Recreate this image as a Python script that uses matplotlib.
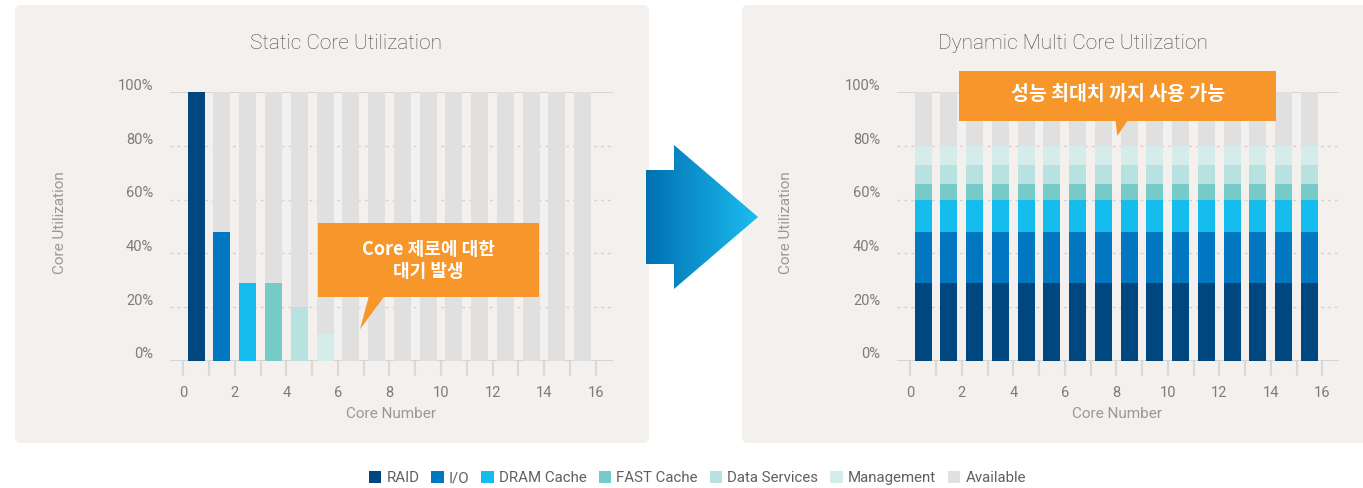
import numpy as np
import matplotlib
matplotlib.use("Agg")
import matplotlib.pyplot as plt
from matplotlib.patches import Patch, Rectangle, Polygon, FancyBboxPatch
from matplotlib.colors import LinearSegmentedColormap

plt.rcParams['font.family'] = ['Roboto', 'Noto Sans CJK KR', 'DejaVu Sans']

# ---- data ----
series = ['RAID', 'I/O', 'DRAM Cache', 'FAST Cache', 'Data Services', 'Management', 'Available']
colors = ['#00467f', '#0077c0', '#14bdee', '#76cac7', '#b8e2df', '#d4ecea', '#e0e0e0']
cores = np.arange(16) + 0.5

# static: one service pinned per core, rest idle
static_raid = [100, 0, 0, 0, 0, 0, 0, 0, 0, 0, 0, 0, 0, 0, 0, 0]
static_io = [0, 48, 0, 0, 0, 0, 0, 0, 0, 0, 0, 0, 0, 0, 0, 0]
static_dram = [0, 0, 29, 0, 0, 0, 0, 0, 0, 0, 0, 0, 0, 0, 0, 0]
static_fast = [0, 0, 0, 29, 0, 0, 0, 0, 0, 0, 0, 0, 0, 0, 0, 0]
static_ds = [0, 0, 0, 0, 20, 0, 0, 0, 0, 0, 0, 0, 0, 0, 0, 0]
static_mgmt = [0, 0, 0, 0, 0, 10, 0, 0, 0, 0, 0, 0, 0, 0, 0, 0]

# dynamic: every core shares the load
dyn_raid = [29] * 16
dyn_io = [19] * 16
dyn_dram = [12] * 16
dyn_fast = [6] * 16
dyn_ds = [7] * 16
dyn_mgmt = [7] * 16

yticks = [0, 20, 40, 60, 80, 100]

W, H = 1363, 488


def fx(x):
    return x / W


def fy(y):
    return 1 - y / H


fig = plt.figure(figsize=(W / 100, H / 100), dpi=100, facecolor='white')

# background: panels + arrow, pixel coordinates
bg = fig.add_axes([0, 0, 1, 1], zorder=-1)
bg.set_xlim(0, W)
bg.set_ylim(H, 0)
bg.axis('off')
panel_col = '#f3f0ed'
for x0, x1 in [(15, 649), (742, 1380)]:
    bg.add_patch(FancyBboxPatch((x0 + 6, 5 + 6), x1 - x0 - 12, 438 - 12,
                                boxstyle='round,pad=6', fc=panel_col, ec='none', zorder=1))

arrow_pts = [(646, 170), (674, 170), (674, 145), (758, 217), (674, 289), (674, 264), (646, 264)]
arrow = Polygon(arrow_pts, closed=True, fc='none', ec='none')
bg.add_patch(arrow)
grad = LinearSegmentedColormap.from_list('arr', ['#0070b2', '#1cbdf0'])
img = bg.imshow(np.linspace(0, 1, 256).reshape(1, -1), cmap=grad, aspect='auto',
                extent=(646, 758, 289, 145), interpolation='bicubic', zorder=3)
img.set_clip_path(arrow)
bg.set_xlim(0, W)
bg.set_ylim(H, 0)


def draw_chart(ax, stack):
    ax.set_facecolor('none')
    ax.set_xlim(-0.52, 16.66)
    ax.set_ylim(0, 100)
    for v in yticks:
        if v in (0, 100):
            ax.axhline(v, color='#cfcfcf', lw=1.2, zorder=0)
        else:
            ax.axhline(v, color='#d3d3d3', lw=1, ls=(0, (2, 3)), zorder=0)
        ax.annotate(f'{v}%', xy=(0, v), xycoords=('axes fraction', 'data'),
                    xytext=(-12, 4.5), textcoords='offset points',
                    ha='right', va='center', fontsize=10.5, color='#7c7c7c')
    bottom = np.zeros(16)
    for vals, c in zip(stack, colors[:-1]):
        ax.bar(cores, vals, width=0.66, bottom=bottom, color=c, zorder=2)
        bottom = bottom + np.array(vals)
    ax.bar(cores, 100 - bottom, width=0.66, bottom=bottom, color=colors[-1], zorder=2)

    for s in ax.spines.values():
        s.set_visible(False)
    ax.set_yticks([])
    ax.set_xticks(range(0, 17, 2))
    ax.set_xticks(range(1, 17, 2), minor=True)
    ax.tick_params(axis='x', which='both', length=11, width=1.5, color='#d9d9d9', pad=7,
                   labelsize=10.5, labelcolor='#7c7c7c')


ax1 = fig.add_axes([fx(169.9), fy(360.7), 442.7 / W, 268.4 / H])
draw_chart(ax1, [static_raid, static_io, static_dram, static_fast, static_ds, static_mgmt])
ax2 = fig.add_axes([fx(896.9), fy(360.7), 442.4 / W, 268.4 / H])
draw_chart(ax2, [dyn_raid, dyn_io, dyn_dram, dyn_fast, dyn_ds, dyn_mgmt])

# titles / axis labels
for x, t in [(346.5, 'Static Core Utilization'), (1073, 'Dynamic Multi Core Utilization')]:
    fig.text(fx(x), fy(43.5), t, ha='center', va='center', fontsize=15,
             color='#4a4a4a', fontweight='light')
for x in (59.5, 786):
    fig.text(fx(x), fy(222.7), 'Core Utilization', rotation=90, ha='center', va='center',
             fontsize=11, color='#999999')
for x in (391, 1117):
    fig.text(fx(x), fy(414), 'Core Number', ha='center', va='center',
             fontsize=11, color='#999999')

# callouts on top
ov = fig.add_axes([0, 0, 1, 1], zorder=10)
ov.set_xlim(0, W)
ov.set_ylim(H, 0)
ov.axis('off')
orange = '#f7962a'
kfont = ['Noto Sans CJK KR', 'DejaVu Sans']
ov.add_patch(Rectangle((318, 223.3), 221, 73.7, fc=orange, ec='none'))
ov.add_patch(Polygon([(369, 296), (384.5, 296), (360, 329.3)], closed=True, fc=orange, ec='none'))
ov.text(428.5, 249.3, 'Core 제로에 대한', ha='center', va='center', fontsize=13,
        color='white', fontweight='bold', family=kfont)
ov.text(428.5, 271.7, '대기 발생', ha='center', va='center', fontsize=13,
        color='white', fontweight='bold', family=kfont)
ov.add_patch(Rectangle((959.3, 71), 316.7, 50, fc=orange, ec='none'))
ov.add_patch(Polygon([(1115.5, 120), (1128, 120), (1117.3, 136)], closed=True, fc=orange, ec='none'))
ov.text(1118, 95, '성능 최대치 까지 사용 가능', ha='center', va='center', fontsize=14,
        color='white', fontweight='bold', family=kfont)

# legend
handles = [Patch(fc=c, ec='none') for c in colors]
leg = fig.legend(handles, series, loc='center', bbox_to_anchor=(fx(697.4), fy(478)),
                 ncol=7, frameon=False, handlelength=0.82, handleheight=0.82,
                 handletextpad=0.35, columnspacing=0.8, fontsize=10.8)
for t in leg.get_texts():
    t.set_color('#606060')

fig.savefig('out.png', dpi=100, facecolor='white')
